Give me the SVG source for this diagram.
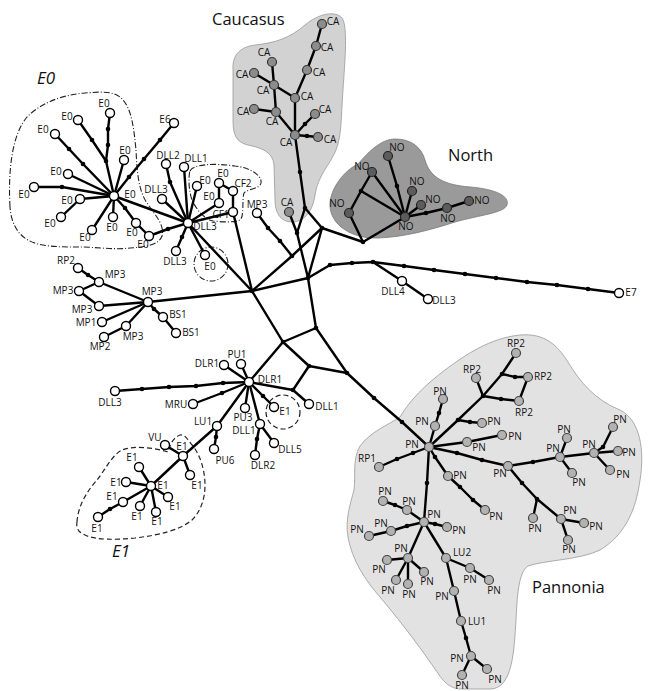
<svg xmlns="http://www.w3.org/2000/svg" width="648" height="691" viewBox="0 0 648 691">
<style>
.e{stroke:#000;stroke-width:2.4;fill:none;stroke-linecap:round;stroke-linejoin:round}
.n{fill:#fff;stroke:#000;stroke-width:1.4}
.ca{fill:#8c8c8c;stroke:#333;stroke-width:1.2}
.no{fill:#5c5c5c;stroke:#222;stroke-width:1.2}
.pn{fill:#b2b2b2;stroke:#444;stroke-width:1.2}
.d{fill:#000}
text{font-family:"Open Sans","Noto Sans",sans-serif;font-size:10px;text-anchor:middle;fill:#111}
.t{font-size:16.5px;text-anchor:start}
.ti{font-size:17px;font-style:italic;text-anchor:start}
.dd{fill:none;stroke:#222;stroke-width:1.1;stroke-dasharray:6 2 1 2}
.da{fill:none;stroke:#222;stroke-width:1.2;stroke-dasharray:5 3}
</style>
<g id="regions">
<path d="M233,70 C232,55 240,47 255,45 C275,43 290,38 305,25 C318,14 335,10 342,18 C348,26 345,60 343,90 C341,115 342,135 336,150 C330,165 318,175 315,195 C313,210 305,222 292,222 C280,222 275,212 275,200 L274,165 C273,152 262,148 248,145 C236,142 233,135 233,120 Z" fill="#d2d2d2" stroke="#999" stroke-width="0.8"/>
<path d="M330,205 C330,188 345,170 358,164 C370,150 382,139 395,139 C410,139 421,146 425,160 C430,178 445,185 470,187 C495,189 510,196 507,205 C504,213 480,215 455,222 C430,230 405,237 378,238 C352,239 330,225 330,205 Z" fill="#9a9a9a" stroke="#777" stroke-width="0.8"/>
<path d="M400,417 C410,400 425,385 445,370 C465,355 490,338 520,335 C545,333 557,345 568,362 C580,382 595,400 620,410 C640,420 645,450 640,480 C636,510 625,535 600,550 C580,560 545,560 528,566 C518,572 517,600 516,620 C514,650 513,689 490,689 L462,689 C445,689 440,675 430,662 C415,640 395,615 380,597 C365,580 352,560 348,537 C345,520 350,505 354,490 C356,475 352,460 360,446 C370,432 388,425 400,417 Z" fill="#e2e2e2" stroke="#999" stroke-width="0.8"/>
<path class="dd" d="M10,207 C8,170 12,135 27,117 C40,104 60,95 85,93 C100,92 115,90 123,100 C132,110 134,130 136,150 C137,170 138,190 147,203 C155,215 165,225 162,236 C159,245 145,247 130,248 C115,250 95,247 80,247 C60,247 40,247 28,240 C17,234 11,222 10,207 Z"/>
<path class="dd" d="M190,171 C193,164 215,163 235,166 C252,168 262,176 261,183 C260,189 247,189 244,193 C242,199 244,214 241,219 C238,223 222,222 213,221 C204,219 196,209 192,200 C189,192 188,177 190,171 Z"/>
<circle class="dd" cx="211" cy="264" r="17"/>
<path class="da" d="M77,522 C78,505 88,490 97,480 C105,470 112,455 122,450 C135,445 155,448 168,452 C170,446 172,438 180,435 C186,434 188,441 193,446 C200,455 205,470 205,485 C205,500 200,512 192,520 C180,530 160,535 135,538 C115,540 95,540 85,535 C78,532 76,528 77,522 Z"/>
<circle class="da" cx="283" cy="412" r="17"/>
<text class="t" x="212" y="25">Caucasus</text>
<text class="t" x="448" y="161">North</text>
<text class="t" x="532" y="593">Pannonia</text>
<text class="ti" x="37" y="84">E0</text>
<text class="ti" x="112" y="557">E1</text>
</g>
<g id="connectors" class="e">
<polyline points="110,113 108,129 108,145 106,161 114,196"/>
<polyline points="78,120 92,140 106,161"/>
<polyline points="55,134 69,149 83,164 114,196"/>
<polyline points="174,123 160,140 144,159 129,177 114,196"/>
<polyline points="124,160 114,196"/>
<polyline points="34,187 62,187 114,196"/>
<polyline points="68,174 114,196"/>
<polyline points="80,199 114,196"/>
<polyline points="80,199 61,217"/>
<polyline points="92,230 114,196"/>
<polyline points="113,217 114,196"/>
<polyline points="136,223 125,208 114,196"/>
<polyline points="136,223 149,236 168,229 188,223"/>
<polyline points="114,196 188,223"/>
<polyline points="166,164 170,182 188,223"/>
<polyline points="184,167 188,223"/>
<polyline points="162,199 188,223"/>
<polyline points="197,186 188,223"/>
<polyline points="233,191 219,183 219,203 188,223"/>
<polyline points="233,191 233,212 188,223"/>
<polyline points="188,223 182,237 176,251"/>
<polyline points="188,223 205,255"/>
<polyline points="188,223 252,291"/>
<polyline points="233,212 252,291"/>
<polyline points="78,268 88,275 99,282 79,291 99,306 148,302"/>
<polyline points="99,282 148,302"/>
<polyline points="148,302 102,322"/>
<polyline points="148,302 126,326 104,337"/>
<polyline points="148,302 154,309 163,317 176,333"/>
<polyline points="148,302 252,291"/>
<polyline points="252,291 292,256 322,228"/>
<polyline points="292,256 280,241 268,228 257,213"/>
<polyline points="252,291 308,278"/>
<polyline points="252,291 283,342"/>
<polyline points="295,135 300,172 305,208 322,228"/>
<polyline points="322,228 363,242 405,217"/>
<polyline points="363,242 349,213"/>
<polyline points="322,228 308,278"/>
<polyline points="289,212 297,233 308,278"/>
<polyline points="305,208 297,233"/>
<polyline points="308,278 330,265 352,263 373,262 404,266 434,270 465,274 496,278 527,282 557,285 588,289 619,293"/>
<polyline points="373,262 402,281 428,299"/>
<polyline points="308,278 316,328 283,342"/>
<polyline points="316,328 347,373 374,398 402,422 429,447"/>
<polyline points="283,342 249,382"/>
<polyline points="283,342 309,366 347,373"/>
<polyline points="309,366 293,390 309,404"/>
<polyline points="293,390 249,382"/>
<polyline points="322,24 316,46 307,70 295,98 295,135"/>
<polyline points="272,62 274,85 276,112 295,135"/>
<polyline points="254,73 274,85 295,98"/>
<polyline points="254,109 276,112"/>
<polyline points="295,135 305,124 315,114"/>
<polyline points="295,135 307,136 318,137"/>
<polyline points="405,217 397,186 388,156"/>
<polyline points="405,217 372,172 361,191 349,213"/>
<polyline points="361,191 405,217"/>
<polyline points="405,217 412,191"/>
<polyline points="405,217 421,205"/>
<polyline points="405,217 426,213 447,208 469,201"/>
<polyline points="249,382 224,365"/>
<polyline points="249,382 241,364"/>
<polyline points="115,391 142,389 169,387 196,386 223,383 249,382"/>
<polyline points="193,404 222,393 249,382"/>
<polyline points="249,382 245,408"/>
<polyline points="249,382 260,424 274,443"/>
<polyline points="260,424 257,439 255,455"/>
<polyline points="249,382 263,396 274,407"/>
<polyline points="249,382 217,426 216,437 214,449"/>
<polyline points="217,426 183,456 151,486"/>
<polyline points="165,445 183,456 190,475"/>
<polyline points="151,486 139,467"/>
<polyline points="151,486 126,482"/>
<polyline points="151,486 123,502 110,509 98,517"/>
<polyline points="151,486 140,506"/>
<polyline points="151,486 156,512"/>
<polyline points="151,486 168,497"/>
<polyline points="379,467 397,459 413,453 429,447"/>
<polyline points="429,447 435,426 439,413 443,399"/>
<polyline points="429,447 458,420 483,396 502,374 516,353"/>
<polyline points="483,396 476,378"/>
<polyline points="502,374 515,377 528,377 519,401 501,399 483,396"/>
<polyline points="458,420 470,422 482,423"/>
<polyline points="429,447 467,442 502,435"/>
<polyline points="429,447 457,453 482,460 508,466 533,462 560,457 594,453"/>
<polyline points="560,457 567,438"/>
<polyline points="560,457 572,473"/>
<polyline points="594,453 603,447 613,427"/>
<polyline points="594,453 618,451"/>
<polyline points="594,453 610,470"/>
<polyline points="508,466 522,483 537,499 561,519 584,523"/>
<polyline points="537,499 533,518"/>
<polyline points="561,519 568,540"/>
<polyline points="429,447 435,457 448,476 460,487 473,500 485,510"/>
<polyline points="429,447 427,483 424,522"/>
<polyline points="424,522 407,510 395,505 383,501"/>
<polyline points="424,522 435,524 447,527"/>
<polyline points="424,522 407,526 391,531 369,536"/>
<polyline points="424,522 408,558 387,560"/>
<polyline points="408,558 396,580"/>
<polyline points="408,558 408,584"/>
<polyline points="408,558 424,572"/>
<polyline points="424,522 446,558 470,568 489,580"/>
<polyline points="446,558 454,591 461,621 466,638 471,656 462,675"/>
<polyline points="471,656 487,669"/>
</g>
<g id="median-vectors" class="d">
<circle cx="108" cy="129" r="2.3"/><circle cx="108" cy="145" r="2.3"/><circle cx="106" cy="161" r="2.3"/><circle cx="92" cy="140" r="2.3"/><circle cx="69" cy="149" r="2.3"/><circle cx="83" cy="164" r="2.3"/><circle cx="160" cy="140" r="2.3"/><circle cx="144" cy="159" r="2.3"/><circle cx="129" cy="177" r="2.3"/><circle cx="62" cy="187" r="2.3"/><circle cx="125" cy="208" r="2.3"/><circle cx="168" cy="229" r="2.3"/><circle cx="170" cy="182" r="2.3"/><circle cx="182" cy="237" r="2.3"/><circle cx="88" cy="275" r="2.3"/><circle cx="154" cy="309" r="2.3"/>
<circle cx="252" cy="291" r="2.3"/><circle cx="292" cy="256" r="2.3"/><circle cx="280" cy="241" r="2.3"/><circle cx="268" cy="228" r="2.3"/><circle cx="322" cy="228" r="2.3"/><circle cx="305" cy="208" r="2.3"/><circle cx="300" cy="172" r="2.3"/><circle cx="363" cy="242" r="2.3"/><circle cx="297" cy="233" r="2.3"/><circle cx="308" cy="278" r="2.3"/><circle cx="330" cy="265" r="2.3"/><circle cx="352" cy="263" r="2.3"/><circle cx="373" cy="262" r="2.3"/><circle cx="404" cy="266" r="2.3"/><circle cx="434" cy="270" r="2.3"/><circle cx="465" cy="274" r="2.3"/><circle cx="496" cy="278" r="2.3"/><circle cx="527" cy="282" r="2.3"/><circle cx="557" cy="285" r="2.3"/><circle cx="588" cy="289" r="2.3"/><circle cx="316" cy="328" r="2.3"/><circle cx="283" cy="342" r="2.3"/><circle cx="347" cy="373" r="2.3"/><circle cx="374" cy="398" r="2.3"/><circle cx="402" cy="422" r="2.3"/><circle cx="309" cy="366" r="2.3"/><circle cx="293" cy="390" r="2.3"/>
<circle cx="305" cy="124" r="2.3"/><circle cx="307" cy="136" r="2.3"/><circle cx="397" cy="186" r="2.3"/><circle cx="361" cy="191" r="2.3"/><circle cx="426" cy="213" r="2.3"/>
<circle cx="142" cy="389" r="2.3"/><circle cx="169" cy="387" r="2.3"/><circle cx="196" cy="386" r="2.3"/><circle cx="223" cy="383" r="2.3"/><circle cx="222" cy="393" r="2.3"/><circle cx="257" cy="439" r="2.3"/><circle cx="263" cy="396" r="2.3"/><circle cx="216" cy="437" r="2.3"/><circle cx="110" cy="509" r="2.3"/>
<circle cx="397" cy="459" r="2.3"/><circle cx="413" cy="453" r="2.3"/><circle cx="439" cy="413" r="2.3"/><circle cx="458" cy="420" r="2.3"/><circle cx="483" cy="396" r="2.3"/><circle cx="502" cy="374" r="2.3"/><circle cx="515" cy="377" r="2.3"/><circle cx="501" cy="399" r="2.3"/><circle cx="470" cy="422" r="2.3"/><circle cx="457" cy="453" r="2.3"/><circle cx="482" cy="460" r="2.3"/><circle cx="533" cy="462" r="2.3"/><circle cx="603" cy="447" r="2.3"/><circle cx="522" cy="483" r="2.3"/><circle cx="537" cy="499" r="2.3"/><circle cx="435" cy="457" r="2.3"/><circle cx="460" cy="487" r="2.3"/><circle cx="473" cy="500" r="2.3"/><circle cx="427" cy="483" r="2.3"/><circle cx="395" cy="505" r="2.3"/><circle cx="435" cy="524" r="2.3"/><circle cx="407" cy="526" r="2.3"/><circle cx="466" cy="638" r="2.3"/>
</g>
<g id="nodes">
<g id="e0hub"><circle class="n" cx="114" cy="196" r="4.5"/><text x="130" y="197.5">E0</text></g>
<g id="e0a"><circle class="n" cx="110" cy="113" r="4.5"/><text x="104" y="106.5">E0</text></g>
<g id="e0b"><circle class="n" cx="78" cy="120" r="4.5"/><text x="67" y="119.5">E0</text></g>
<g id="e0c"><circle class="n" cx="55" cy="134" r="4.5"/><text x="43" y="132.5">E0</text></g>
<g id="e0d"><circle class="n" cx="124" cy="160" r="4.5"/><text x="125" y="153.5">E0</text></g>
<g id="e6"><circle class="n" cx="174" cy="123" r="4.5"/><text x="165" y="122.5">E6</text></g>
<g id="e0e"><circle class="n" cx="68" cy="174" r="4.5"/><text x="56" y="174.5">E0</text></g>
<g id="e0f"><circle class="n" cx="34" cy="187" r="4.5"/><text x="24" y="197.5">E0</text></g>
<g id="e0g"><circle class="n" cx="80" cy="199" r="4.5"/><text x="67" y="203.5">E0</text></g>
<g id="e0h"><circle class="n" cx="61" cy="217" r="4.5"/><text x="50" y="226.5">E0</text></g>
<g id="e0i"><circle class="n" cx="92" cy="230" r="4.5"/><text x="85" y="240.5">E0</text></g>
<g id="e0j"><circle class="n" cx="113" cy="217" r="4.5"/><text x="112" y="230.5">E0</text></g>
<g id="e0k"><circle class="n" cx="136" cy="223" r="4.5"/><text x="132" y="235.5">E0</text></g>
<g id="e0l"><circle class="n" cx="149" cy="236" r="4.5"/><text x="143" y="247.5">E0</text></g>
<g id="dll3hub"><circle class="n" cx="188" cy="223" r="4.5"/><text x="205" y="229.5">DLL3</text></g>
<g id="dll2"><circle class="n" cx="166" cy="164" r="4.5"/><text x="168" y="158.5">DLL2</text></g>
<g id="dll1a"><circle class="n" cx="184" cy="167" r="4.5"/><text x="196" y="161.5">DLL1</text></g>
<g id="dll3a"><circle class="n" cx="162" cy="199" r="4.5"/><text x="156" y="192.5">DLL3</text></g>
<g id="dll3b"><circle class="n" cx="176" cy="251" r="4.5"/><text x="175" y="265">DLL3</text></g>
<g id="e0m"><circle class="n" cx="197" cy="186" r="4.5"/><text x="205" y="183.5">E0</text></g>
<g id="e0n"><circle class="n" cx="219" cy="183" r="4.5"/><text x="223" y="176.5">E0</text></g>
<g id="cf2"><circle class="n" cx="233" cy="191" r="4.5"/><text x="243" y="186.5">CF2</text></g>
<g id="e0o"><circle class="n" cx="219" cy="203" r="4.5"/><text x="209" y="200">E0</text></g>
<g id="cf1"><circle class="n" cx="233" cy="212" r="4.5"/><text x="221" y="217.5">CF1</text></g>
<g id="e0p"><circle class="n" cx="205" cy="255" r="4.5"/><text x="210" y="270">E0</text></g>
<g id="mp3hub"><circle class="n" cx="148" cy="302" r="4.5"/><text x="152" y="295">MP3</text></g>
<g id="rp2a"><circle class="n" cx="78" cy="268" r="4.5"/><text x="66" y="263.5">RP2</text></g>
<g id="mp3a"><circle class="n" cx="99" cy="282" r="4.5"/><text x="115" y="277.5">MP3</text></g>
<g id="mp3b"><circle class="n" cx="79" cy="291" r="4.5"/><text x="63" y="294">MP3</text></g>
<g id="mp3c"><circle class="n" cx="99" cy="306" r="4.5"/><text x="82" y="313">MP3</text></g>
<g id="mp1"><circle class="n" cx="102" cy="322" r="4.5"/><text x="86" y="326">MP1</text></g>
<g id="mp3d"><circle class="n" cx="126" cy="326" r="4.5"/><text x="133" y="340">MP3</text></g>
<g id="mp2"><circle class="n" cx="104" cy="337" r="4.5"/><text x="100" y="350">MP2</text></g>
<g id="bs1a"><circle class="n" cx="163" cy="317" r="4.5"/><text x="178" y="318">BS1</text></g>
<g id="bs1b"><circle class="n" cx="176" cy="333" r="4.5"/><text x="191" y="336">BS1</text></g>
<g id="mp3e"><circle class="n" cx="257" cy="213" r="4.5"/><text x="257" y="207.5">MP3</text></g>
<g id="ca1"><circle class="ca" cx="322" cy="24" r="4.5"/><text x="333" y="25">CA</text></g>
<g id="ca2"><circle class="ca" cx="316" cy="46" r="4.5"/><text x="327" y="51">CA</text></g>
<g id="ca3"><circle class="ca" cx="307" cy="70" r="4.5"/><text x="319" y="76">CA</text></g>
<g id="ca4"><circle class="ca" cx="295" cy="98" r="4.5"/><text x="307" y="100">CA</text></g>
<g id="ca5"><circle class="ca" cx="272" cy="62" r="4.5"/><text x="264" y="56">CA</text></g>
<g id="ca6"><circle class="ca" cx="254" cy="73" r="4.5"/><text x="242" y="77.5">CA</text></g>
<g id="ca7"><circle class="ca" cx="274" cy="85" r="4.5"/><text x="263" y="93.5">CA</text></g>
<g id="ca8"><circle class="ca" cx="254" cy="109" r="4.5"/><text x="243" y="115">CA</text></g>
<g id="ca9"><circle class="ca" cx="276" cy="112" r="4.5"/><text x="272" y="125">CA</text></g>
<g id="cahub"><circle class="ca" cx="295" cy="135" r="4.5"/><text x="286" y="146">CA</text></g>
<g id="ca10"><circle class="ca" cx="315" cy="114" r="4.5"/><text x="325" y="113">CA</text></g>
<g id="ca11"><circle class="ca" cx="318" cy="137" r="4.5"/><text x="330" y="143">CA</text></g>
<g id="ca12"><circle class="ca" cx="289" cy="212" r="4.5"/><text x="287" y="206">CA</text></g>
<g id="nohub"><circle class="no" cx="405" cy="217" r="4.5"/><text x="406" y="230">NO</text></g>
<g id="no1"><circle class="no" cx="388" cy="156" r="4.5"/><text x="397" y="151">NO</text></g>
<g id="no2"><circle class="no" cx="372" cy="172" r="4.5"/><text x="362" y="170">NO</text></g>
<g id="no3"><circle class="no" cx="349" cy="213" r="4.5"/><text x="337" y="207">NO</text></g>
<g id="no4"><circle class="no" cx="412" cy="191" r="4.5"/><text x="417" y="185">NO</text></g>
<g id="no5"><circle class="no" cx="421" cy="205" r="4.5"/><text x="433" y="203">NO</text></g>
<g id="no6"><circle class="no" cx="447" cy="208" r="4.5"/><text x="448" y="222">NO</text></g>
<g id="no7"><circle class="no" cx="469" cy="201" r="4.5"/><text x="482" y="203.5">NO</text></g>
<g id="e7"><circle class="n" cx="619" cy="293" r="4.5"/><text x="631" y="296">E7</text></g>
<g id="dll4"><circle class="n" cx="402" cy="281" r="4.5"/><text x="393" y="295">DLL4</text></g>
<g id="dll3c"><circle class="n" cx="428" cy="299" r="4.5"/><text x="444" y="303.5">DLL3</text></g>
<g id="dlr1hub"><circle class="n" cx="249" cy="382" r="4.5"/><text x="270" y="382.5">DLR1</text></g>
<g id="dlr1a"><circle class="n" cx="224" cy="365" r="4.5"/><text x="207" y="367">DLR1</text></g>
<g id="pu1"><circle class="n" cx="241" cy="364" r="4.5"/><text x="237" y="358">PU1</text></g>
<g id="dll3d"><circle class="n" cx="115" cy="391" r="4.5"/><text x="110" y="406">DLL3</text></g>
<g id="mru"><circle class="n" cx="193" cy="404" r="4.5"/><text x="176" y="408">MRU</text></g>
<g id="pu3"><circle class="n" cx="245" cy="408" r="4.5"/><text x="243" y="421">PU3</text></g>
<g id="dll1c"><circle class="n" cx="260" cy="424" r="4.5"/><text x="244" y="433.5">DLL1</text></g>
<g id="dll5"><circle class="n" cx="274" cy="443" r="4.5"/><text x="290" y="453">DLL5</text></g>
<g id="dlr2"><circle class="n" cx="255" cy="455" r="4.5"/><text x="263" y="468.5">DLR2</text></g>
<g id="e1a"><circle class="n" cx="274" cy="407" r="4.5"/><text x="285" y="415">E1</text></g>
<g id="dll1b"><circle class="n" cx="309" cy="404" r="4.5"/><text x="327" y="410">DLL1</text></g>
<g id="lu1a"><circle class="n" cx="217" cy="426" r="4.5"/><text x="203" y="425">LU1</text></g>
<g id="pu6"><circle class="n" cx="214" cy="449" r="4.5"/><text x="225" y="463.5">PU6</text></g>
<g id="e1b"><circle class="n" cx="183" cy="456" r="4.5"/><text x="182" y="449.5">E1</text></g>
<g id="vu"><circle class="n" cx="165" cy="445" r="4.5"/><text x="155" y="441">VU</text></g>
<g id="e1c"><circle class="n" cx="190" cy="475" r="4.5"/><text x="197" y="488.5">E1</text></g>
<g id="e1hub"><circle class="n" cx="151" cy="486" r="4.5"/><text x="163" y="488.5">E1</text></g>
<g id="e1d"><circle class="n" cx="139" cy="467" r="4.5"/><text x="132" y="461">E1</text></g>
<g id="e1e"><circle class="n" cx="126" cy="482" r="4.5"/><text x="116" y="486">E1</text></g>
<g id="e1f"><circle class="n" cx="123" cy="502" r="4.5"/><text x="112" y="500">E1</text></g>
<g id="e1g"><circle class="n" cx="98" cy="517" r="4.5"/><text x="97" y="532">E1</text></g>
<g id="e1h"><circle class="n" cx="140" cy="506" r="4.5"/><text x="137" y="519.5">E1</text></g>
<g id="e1i"><circle class="n" cx="156" cy="512" r="4.5"/><text x="157" y="525">E1</text></g>
<g id="e1j"><circle class="n" cx="168" cy="497" r="4.5"/><text x="175" y="510">E1</text></g>
<g id="pnhub"><circle class="pn" cx="429" cy="447" r="4.5"/><text x="412" y="447.5">PN</text></g>
<g id="rp1"><circle class="pn" cx="379" cy="467" r="4.5"/><text x="367" y="462">RP1</text></g>
<g id="pn1"><circle class="pn" cx="435" cy="426" r="4.5"/><text x="422" y="424.5">PN</text></g>
<g id="pn2"><circle class="pn" cx="443" cy="399" r="4.5"/><text x="440" y="394.5">PN</text></g>
<g id="rp2b1"><circle class="pn" cx="516" cy="353" r="4.5"/><text x="516" y="347">RP2</text></g>
<g id="rp2b2"><circle class="pn" cx="476" cy="378" r="4.5"/><text x="472" y="373">RP2</text></g>
<g id="rp2b3"><circle class="pn" cx="528" cy="377" r="4.5"/><text x="543" y="379.5">RP2</text></g>
<g id="rp2b4"><circle class="pn" cx="519" cy="401" r="4.5"/><text x="524" y="416">RP2</text></g>
<g id="pn3"><circle class="pn" cx="482" cy="423" r="4.5"/><text x="494" y="424.5">PN</text></g>
<g id="pn4"><circle class="pn" cx="467" cy="442" r="4.5"/><text x="479" y="451">PN</text></g>
<g id="pn5"><circle class="pn" cx="502" cy="435" r="4.5"/><text x="515" y="440">PN</text></g>
<g id="pn6"><circle class="pn" cx="508" cy="466" r="4.5"/><text x="500" y="477">PN</text></g>
<g id="pn7"><circle class="pn" cx="560" cy="457" r="4.5"/><text x="553" y="452">PN</text></g>
<g id="pn8"><circle class="pn" cx="567" cy="438" r="4.5"/><text x="564" y="433">PN</text></g>
<g id="pn9"><circle class="pn" cx="572" cy="473" r="4.5"/><text x="579" y="486">PN</text></g>
<g id="pn10"><circle class="pn" cx="594" cy="453" r="4.5"/><text x="589" y="448">PN</text></g>
<g id="pn11"><circle class="pn" cx="613" cy="427" r="4.5"/><text x="620" y="422.5">PN</text></g>
<g id="pn12"><circle class="pn" cx="618" cy="451" r="4.5"/><text x="629" y="456">PN</text></g>
<g id="pn13"><circle class="pn" cx="610" cy="470" r="4.5"/><text x="623" y="477.5">PN</text></g>
<g id="pn14"><circle class="pn" cx="533" cy="518" r="4.5"/><text x="535" y="532">PN</text></g>
<g id="pn15"><circle class="pn" cx="561" cy="519" r="4.5"/><text x="570" y="514">PN</text></g>
<g id="pn16"><circle class="pn" cx="584" cy="523" r="4.5"/><text x="596" y="529.5">PN</text></g>
<g id="pn17"><circle class="pn" cx="568" cy="540" r="4.5"/><text x="569" y="553">PN</text></g>
<g id="pn18"><circle class="pn" cx="448" cy="476" r="4.5"/><text x="460" y="478.5">PN</text></g>
<g id="pn19"><circle class="pn" cx="485" cy="510" r="4.5"/><text x="496" y="520">PN</text></g>
<g id="pnhub3"><circle class="pn" cx="424" cy="522" r="4.5"/><text x="434" y="518">PN</text></g>
<g id="pn20"><circle class="pn" cx="407" cy="510" r="4.5"/><text x="409" y="505">PN</text></g>
<g id="pn21"><circle class="pn" cx="383" cy="501" r="4.5"/><text x="385" y="494.5">PN</text></g>
<g id="pn22"><circle class="pn" cx="447" cy="527" r="4.5"/><text x="459" y="534">PN</text></g>
<g id="pn23"><circle class="pn" cx="391" cy="531" r="4.5"/><text x="381" y="527">PN</text></g>
<g id="pn24"><circle class="pn" cx="369" cy="536" r="4.5"/><text x="357" y="533">PN</text></g>
<g id="pn25"><circle class="pn" cx="408" cy="558" r="4.5"/><text x="401" y="552">PN</text></g>
<g id="pn26"><circle class="pn" cx="387" cy="560" r="4.5"/><text x="379" y="573">PN</text></g>
<g id="pn27"><circle class="pn" cx="396" cy="580" r="4.5"/><text x="388" y="594">PN</text></g>
<g id="pn28"><circle class="pn" cx="408" cy="584" r="4.5"/><text x="409" y="598">PN</text></g>
<g id="pn29"><circle class="pn" cx="424" cy="572" r="4.5"/><text x="427" y="584.5">PN</text></g>
<g id="lu2"><circle class="pn" cx="446" cy="558" r="4.5"/><text x="462" y="556">LU2</text></g>
<g id="pn30"><circle class="pn" cx="470" cy="568" r="4.5"/><text x="470" y="583">PN</text></g>
<g id="pn31"><circle class="pn" cx="489" cy="580" r="4.5"/><text x="494" y="593.5">PN</text></g>
<g id="pn32"><circle class="pn" cx="454" cy="591" r="4.5"/><text x="442" y="600">PN</text></g>
<g id="lu1b"><circle class="pn" cx="461" cy="621" r="4.5"/><text x="477" y="625">LU1</text></g>
<g id="pn33"><circle class="pn" cx="471" cy="656" r="4.5"/><text x="457" y="662">PN</text></g>
<g id="pn34"><circle class="pn" cx="462" cy="675" r="4.5"/><text x="462" y="688.5">PN</text></g>
<g id="pn35"><circle class="pn" cx="487" cy="669" r="4.5"/><text x="495" y="682.5">PN</text></g>
</g>
</svg>
